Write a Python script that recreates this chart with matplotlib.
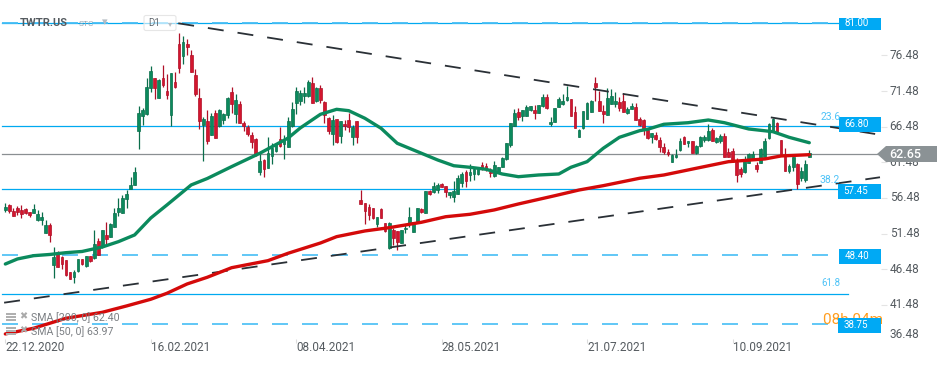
import matplotlib
matplotlib.use("Agg")
import matplotlib.pyplot as plt
from matplotlib.patches import Rectangle, Polygon, FancyBboxPatch
from matplotlib.transforms import Affine2D, ScaledTranslation

plt.rcParams['font.family'] = ['Roboto', 'DejaVu Sans']
plt.rcParams['lines.scale_dashes'] = False

# Candles
opens = [54.79,55.44,54.65,55.07,54.79,54.88,54.46,54.41,53.43,53.38,
         51.61,52.68,47.07,48.61,48.19,47.77,46.08,45.38,46.27,47.91,
         46.93,48.28,48.00,50.44,49.78,51.28,50.95,52.45,54.51,54.41,
         56.38,57.74,58.30,65.92,67.98,68.26,71.96,73.27,70.56,73.27,
         71.49,68.12,72.76,78.09,76.41,78.09,76.55,73.74,70.46,66.72,
         67.28,65.36,68.36,66.58,67.42,68.12,71.31,68.26,69.62,66.95,
         66.44,65.32,64.71,60.17,61.76,60.73,62.41,63.12,64.71,64.10,
         63.68,66.58,69.86,70.09,70.79,70.79,72.57,70.09,71.87,69.95,
         67.66,65.46,67.52,65.23,66.86,67.43,65.09,67.29,56.19,55.73,
         55.26,55.12,52.82,54.93,52.92,49.41,51.94,51.79,50.20,52.12,
         52.82,51.75,53.06,54.93,54.42,57.50,57.36,57.60,58.44,58.16,
         56.90,56.62,57.08,58.63,60.17,59.70,59.84,59.84,61.06,60.92,
         60.13,59.56,60.17,60.87,61.90,63.92,66.63,68.60,67.99,68.03,
         68.83,68.83,68.46,69.39,70.61,66.82,67.15,69.30,69.67,70.23,
         70.33,68.50,65.09,66.26,67.57,68.60,72.57,70.14,68.69,68.13,
         69.72,69.67,69.95,70.05,68.36,69.02,69.20,67.52,67.42,66.02,
         64.99,65.27,64.62,63.59,62.93,61.57,62.18,63.21,64.99,64.15,
         64.43,62.74,63.77,64.62,64.62,66.02,64.38,64.52,65.18,62.98,
         63.12,61.57,60.50,60.12,61.43,61.90,61.06,61.43,62.18,64.85,
         65.88,66.96,64.62,62.51,60.22,60.78,61.20,59.28,59.00,62.28]
closes = [55.21,54.65,53.99,54.46,54.27,54.32,54.09,54.93,54.23,53.85,
          52.68,51.28,48.24,46.83,47.21,45.71,45.15,46.08,47.91,47.21,
          48.28,47.63,50.01,48.47,51.98,50.72,52.78,54.32,55.02,56.52,
          57.08,58.30,60.07,68.36,68.78,72.01,74.30,71.96,73.04,72.34,
          70.93,73.97,72.01,74.77,78.37,77.72,74.21,71.07,67.33,67.52,
          64.47,67.98,64.94,68.78,68.22,70.51,69.71,70.23,67.05,66.58,
          65.46,64.38,62.51,61.62,60.50,62.74,63.44,64.01,63.82,64.71,
          67.28,68.92,71.45,71.17,71.17,72.71,69.86,71.87,70.23,68.13,
          65.93,67.43,64.29,67.29,66.58,66.49,66.49,65.09,55.63,54.70,
          54.09,53.71,53.76,53.71,51.89,53.01,50.81,50.30,51.98,52.31,
          53.76,53.10,55.02,54.56,57.46,57.04,58.16,58.25,58.07,57.36,
          57.32,57.46,59.33,59.84,58.91,60.08,60.50,60.55,60.59,60.59,
          59.94,61.06,60.83,62.09,64.15,66.96,68.46,67.89,68.78,69.25,
          69.34,68.36,69.48,70.61,69.06,67.15,69.06,70.33,70.05,70.61,
          68.03,66.35,65.98,68.64,69.77,70.05,72.11,68.74,68.27,70.51,
          70.80,70.09,69.06,68.55,68.92,69.39,67.43,66.72,66.11,64.85,
          65.55,64.76,63.68,62.93,62.60,62.51,62.51,64.52,64.05,64.43,
          62.84,63.77,65.08,64.99,65.88,64.52,64.85,65.22,62.28,62.28,
          61.81,59.70,59.84,61.90,62.65,62.65,60.50,63.31,64.52,66.86,
          67.61,65.65,62.65,60.31,60.97,62.18,58.44,60.22,61.25,62.84]
highs = [55.72,55.63,55.02,55.35,55.49,55.02,54.55,55.63,54.79,54.55,
         53.38,52.92,49.64,49.08,48.33,47.77,46.13,46.36,47.96,47.96,
         48.33,48.33,51.98,50.81,51.98,53.15,52.92,55.02,56.43,56.89,
         57.60,59.47,60.78,69.39,69.11,73.27,75.00,73.27,73.13,75.14,
         73.88,73.97,74.16,79.59,79.22,78.75,77.25,74.58,71.91,67.80,
         68.83,68.36,68.83,68.92,68.36,70.60,72.01,71.07,70.14,67.28,
         66.72,65.78,64.85,62.65,61.95,65.08,64.15,64.15,66.49,65.32,
         67.89,70.00,72.01,71.63,72.01,73.04,73.41,72.01,72.34,70.14,
         67.89,68.13,67.52,67.29,67.43,68.36,66.72,67.29,57.60,55.73,
         55.63,55.12,53.76,55.02,53.01,53.15,52.22,51.89,51.98,52.68,
         55.16,53.15,55.02,55.02,57.50,57.60,58.77,58.53,58.63,58.16,
         57.36,58.91,59.70,60.17,60.41,61.25,60.78,60.78,61.58,61.34,
         60.64,61.72,60.87,62.28,64.26,67.05,68.92,69.06,68.83,69.53,
         69.39,69.53,69.53,71.08,71.08,67.80,69.06,70.70,71.03,72.20,
         70.33,69.39,66.12,68.69,70.00,70.23,73.42,71.54,69.53,71.87,
         71.73,71.40,70.61,71.17,69.20,69.77,69.86,67.89,67.52,66.11,
         65.65,65.79,64.99,64.15,63.31,62.65,63.31,64.85,65.18,64.52,
         64.52,63.91,65.18,65.32,66.86,66.25,65.08,65.46,65.55,63.45,
         63.45,62.04,60.78,62.37,62.74,63.12,61.57,63.45,64.85,67.05,
         67.66,67.19,64.62,63.45,61.25,62.28,61.34,60.78,61.81,63.21]
lows = [54.55,54.32,53.95,54.09,53.71,54.18,53.85,54.32,53.29,52.68,
        51.51,50.34,45.29,46.74,46.46,45.52,45.10,44.59,46.13,47.07,
        46.74,47.53,47.96,48.47,49.41,50.01,50.95,52.35,53.95,54.41,
        55.02,57.69,58.30,63.35,66.72,68.12,71.35,70.32,70.51,72.01,
        70.42,66.58,71.96,74.07,75.28,76.55,74.16,70.79,66.21,61.71,
        64.10,65.32,64.94,66.49,66.86,67.66,68.36,67.05,67.05,65.92,
        65.18,63.44,62.37,59.70,59.47,60.64,61.24,62.98,63.68,61.95,
        63.68,66.49,68.26,69.53,69.76,70.70,69.86,70.00,69.77,66.96,
        65.46,63.92,64.15,64.15,66.02,65.79,63.92,64.15,55.63,52.82,
        53.39,53.48,52.45,53.62,51.75,49.27,49.88,49.17,50.11,51.51,
        52.45,51.75,52.92,54.42,54.42,56.90,57.22,57.22,57.97,56.66,
        56.43,55.96,57.04,57.97,57.97,58.91,59.00,59.70,60.41,60.31,
        59.38,59.47,59.94,60.78,61.81,63.68,66.58,67.43,67.33,67.99,
        68.74,67.52,68.46,69.30,68.97,66.58,67.10,69.20,69.53,70.14,
        67.99,66.26,65.00,66.12,67.52,68.60,70.14,68.69,67.05,68.13,
        69.67,69.30,68.74,68.55,68.22,68.92,67.43,66.58,65.32,64.71,
        64.24,64.62,62.98,62.65,62.37,61.48,62.04,63.12,64.05,63.68,
        62.74,62.65,63.68,64.38,64.52,64.48,64.15,64.24,62.18,62.18,
        61.57,58.77,59.47,59.94,61.34,61.81,60.17,61.34,62.04,64.71,
        65.79,65.55,62.65,60.31,60.03,60.31,57.69,58.91,58.77,62.18]

# SMA 50
sma50_idx = [0,3,7,11,15,19,24,28,32,36,40,44,46,50,56,63,70,73,78,82,85,89,93,97,103,
             107,111,115,119,123,127,132,137,140,144,148,152,157,159,163,169,174,178,184,190,194,199]
sma50_val = [47.20,47.91,48.37,48.54,48.79,48.96,49.59,50.34,51.28,53.66,55.49,57.36,58.30,59.21,60.87,
             62.75,64.89,66.30,68.22,68.92,68.73,67.66,66.26,64.15,62.75,61.81,61.00,60.78,60.50,59.84,
             59.46,59.70,59.84,60.78,61.57,63.45,64.99,65.92,66.12,66.82,67.04,67.42,67.04,66.16,65.78,64.99,64.23]

# SMA 200
sma200_idx = [0,7,15,24,30,36,40,45,50,56,65,70,78,82,89,95,103,109,115,121,127,136,142,148,157,163,171,179,188,192,199]
sma200_val = [37.38,38.18,39.58,40.42,41.31,42.25,43.09,44.40,45.34,46.68,47.67,48.71,50.15,51.04,51.84,
              52.30,53.06,53.84,54.18,54.79,55.63,56.79,57.59,58.20,59.24,59.70,60.64,61.57,61.95,62.37,62.55]

# Trend lines
upper_idx = [42.8, 215.3]
upper_val = [81.0, 65.46]
lower_idx = [-0.3, 216.5]
lower_val = [41.77, 59.38]

# Price levels
level_81 = 81.0
level_668 = 66.58
level_now = 62.65
level_5745 = 57.69
level_484 = 48.40
level_618 = 43.02
level_3875 = 38.75

date_idx = [0, 36, 72, 108, 144, 180]
date_labels = ['22.12.2020', '16.02.2021', '08.04.2021', '28.05.2021', '21.07.2021', '10.09.2021']
price_ticks = [41.48, 46.48, 51.48, 56.48, 61.48, 66.48, 71.48, 76.48]

GREEN = '#0b8a5d'
RED = '#d3162e'
BLUE = '#00a9f0'
LIGHT_BLUE = '#45bdf5'

W, H = 950, 365
fig = plt.figure(figsize=(W / 100, H / 100), dpi=100, facecolor='white')
# axes spans x 0-881 px, y 0-339 px from the top
ax = fig.add_axes([0, 1 - 339 / H, 881 / W, 339 / H])
ax.set_xlim(-1.32, 216.75)
ax.set_ylim(36.67, 84.27)
ax.patch.set_alpha(0)
for s in ax.spines.values():
    s.set_visible(False)

# pixel coordinates for the overlay widgets (origin top left)
px = Affine2D().scale(1, -1).translate(0, H)

# Horizontal levels
def hline(y, x0, x1, **kw):
    ax.plot([x0 / 881, x1 / 881], [y, y], transform=ax.get_yaxis_transform(), **kw)

hline(level_81, 2, 839, color=BLUE, lw=0.9, zorder=1)
hline(level_81 + 0.1, 2, 828, color=LIGHT_BLUE, lw=1.3, ls=(0, (11.5, 10.1)), zorder=1)
hline(level_668, 2, 839, color=BLUE, lw=0.9, zorder=1)
hline(level_now, 2, 878, color='#8a8f92', lw=0.9, zorder=1)
hline(level_5745, 2, 838, color=BLUE, lw=0.9, zorder=1)
hline(level_484, 2, 828, color=LIGHT_BLUE, lw=1.2, ls=(0, (11.5, 10.1)), zorder=1)
hline(level_618, 2, 848, color=BLUE, lw=0.9, zorder=1)
hline(level_3875, 2, 828, color=LIGHT_BLUE, lw=1.2, ls=(0, (11.5, 10.1)), zorder=1)

# Candles
idx = list(range(len(opens)))
for i in idx:
    up = closes[i] >= opens[i]
    body = GREEN if up else RED
    edge = '#0a6e4b' if up else '#b01028'
    ax.vlines(i, lows[i], highs[i], color=edge, lw=0.9, zorder=2)
    ax.bar(i, abs(closes[i] - opens[i]), bottom=min(opens[i], closes[i]), width=0.68,
           color=body, edgecolor=edge, linewidth=0.5, zorder=3)

# Trend lines
ax.plot(upper_idx, upper_val, color='#2a3036', lw=1.3, ls=(0, (11.5, 10.1)), zorder=4)
ax.plot(lower_idx, lower_val, color='#2a3036', lw=1.3, ls=(0, (11.5, 10.1)), zorder=4)

# SMAs
ax.plot(sma50_idx, sma50_val, color=GREEN, lw=2.4, solid_capstyle='round', zorder=5)
ax.plot(sma200_idx, sma200_val, color='#d40a0a', lw=2.4, solid_capstyle='round', zorder=5)

# Axes ticks
ax.yaxis.tick_right()
ax.set_yticks(price_ticks, [f'{p:.2f}' for p in price_ticks])
ax.set_xticks(date_idx, date_labels, ha='left')
ax.tick_params(axis='y', length=4.3, width=0.8, color='#e4e4e4', labelcolor='#555b60', labelsize=8.5, pad=2)
ax.tick_params(axis='x', length=3, width=0.8, color='#dddddd', labelcolor='#555b60', labelsize=8.5, pad=0.5)

# nudge the tick labels up a little
for lab in ax.get_yticklabels():
    lab.set_transform(lab.get_transform() + ScaledTranslation(0, 1.5 / 100, fig.dpi_scale_trans))
for lab in ax.get_xticklabels():
    lab.set_transform(lab.get_transform() + ScaledTranslation(0, 2.5 / 100, fig.dpi_scale_trans))

def fig_text(x, y, s, **kw):
    fig.text(x, y, s, transform=px, **kw)

fig_text(890, 335, '36.48', color='#555b60', fontsize=8.5, va='center', ha='left')

# Price boxes
def box(x0, y0, x1, y1, s):
    fig.add_artist(Rectangle((x0, y0), x1 - x0, y1 - y0, transform=px, color='#00a9f4', lw=0, zorder=6))
    fig_text(x0 + 5.5, (y0 + y1) / 2 - 0.5, s, color='white', fontsize=7, va='center', ha='left', zorder=7)

# Orange countdown sits behind the 38.75 box
fig_text(823, 320, '08h 04m', color='#ff9d1e', fontsize=11, va='center', ha='left', zorder=5)

box(839, 18, 881, 30, '81.00')
box(839, 117, 881, 132, '66.80')
box(838, 184, 881, 198.7, '57.45')
box(839, 249, 881, 264, '48.40')
box(838, 318, 881, 332.7, '38.75')

# Current price marker
fig.add_artist(Polygon([(877, 154), (886, 146), (937, 146), (937, 162), (886, 162)], closed=True,
                       transform=px, color='#8b9295', lw=0, zorder=6))
fig_text(889, 154, '62.65', color='white', fontsize=9, fontweight='medium', va='center', ha='left', zorder=7)

# Fibonacci labels
fig_text(821, 117.5, '23.6', color='#4fc3f7', fontsize=7.5, va='center', ha='left', zorder=7)
fig_text(820, 180, '38.2', color='#4fc3f7', fontsize=7.5, va='center', ha='left', zorder=7)
fig_text(821, 283.5, '61.8', color='#4fc3f7', fontsize=7, va='center', ha='left', zorder=7)

# Title strip
fig_text(20, 23, 'TWTR.US', color='#555b60', fontsize=8, fontweight='bold', va='center', ha='left', zorder=7)
fig_text(79, 24, 'STC', color='#9aa7b3', fontsize=6, va='center', ha='left', zorder=7)
fig_text(105, 22.5, '▾', color='#b5bcc3', fontsize=8, va='center', ha='center', zorder=7)
fig.add_artist(FancyBboxPatch((144, 15.5), 32, 15, boxstyle='round,pad=0,rounding_size=2', transform=px,
                              facecolor=(1, 1, 1, 0.6), edgecolor='#e6e6e6', lw=0.8, zorder=6))
fig_text(148, 23.5, 'D1', color='#666c72', fontsize=7, va='center', ha='left', zorder=7)
fig_text(170, 24, '▾', color='#b5bcc3', fontsize=6, va='center', ha='center', zorder=7)

# Indicator legend
for y0, label in [(313, 'SMA [200, 0] 62.40'), (327, 'SMA [50, 0] 63.97')]:
    for k in range(3):
        fig.add_artist(Rectangle((6, y0 + k * 3), 10, 2, transform=px, color='#b0b0b0', lw=0, zorder=7))
    fig_text(23.5, y0 + 3.5, '✖', color='#aaaaaa', fontsize=7, va='center', ha='center', zorder=7)
    fig_text(31, y0 + 5, label, color='#7b7f83', fontsize=7.7, va='center', ha='left', zorder=7)

fig.savefig('out.png', dpi=100, facecolor='white')
